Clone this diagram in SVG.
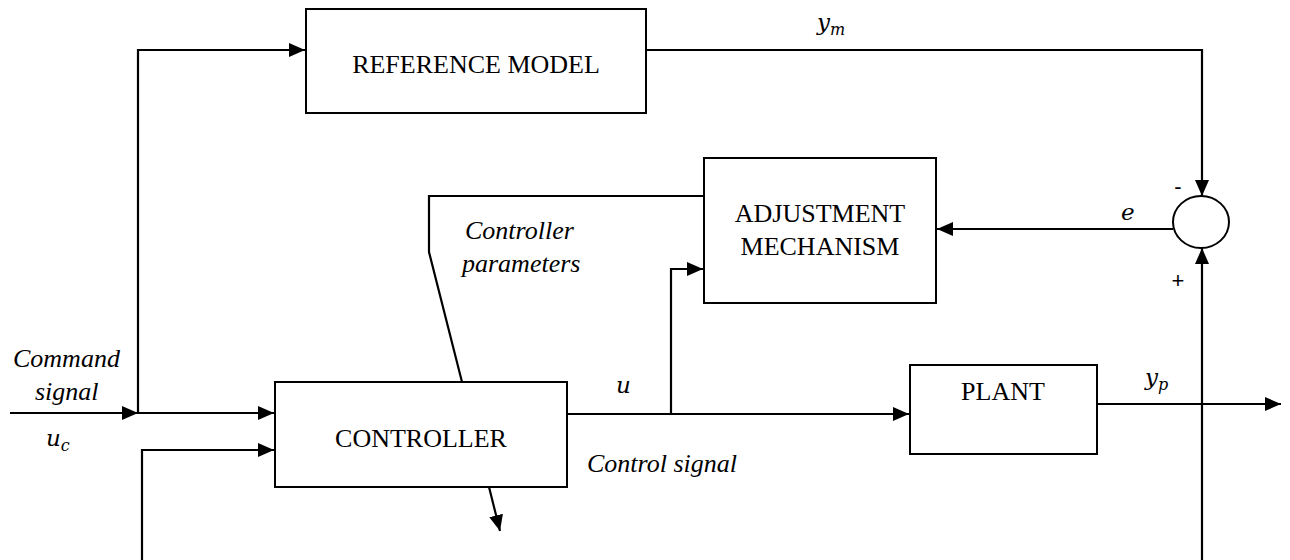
<svg xmlns="http://www.w3.org/2000/svg" width="1290" height="560" viewBox="0 0 1290 560">
<defs>
<marker id="ah" viewBox="0 0 16 14" refX="16" refY="7" markerWidth="16" markerHeight="14" markerUnits="userSpaceOnUse" orient="auto">
<path d="M0,0 L16,7 L0,14 Z" fill="#000"/>
</marker>
</defs>
<style>
.box{fill:#fff;stroke:#000;stroke-width:2}
.ln{fill:none;stroke:#000;stroke-width:2.2}
.ar{fill:none;stroke:#000;stroke-width:2.2;marker-end:url(#ah)}
.bt{font-family:"Liberation Serif",serif;font-size:26px;text-anchor:middle;fill:#000}
.it{font-family:"Liberation Serif",serif;font-size:26px;font-style:italic;fill:#000}
.mt{font-family:"DejaVu Serif","Liberation Serif",serif;font-size:23px;font-style:italic;fill:#000}
.sg{font-family:"Liberation Sans",sans-serif;font-size:22px;text-anchor:middle;fill:#000}
</style>
<rect width="1290" height="560" fill="#fff"/>
<g id="connectors">
<path class="ar" d="M138,413 V50 H305"/>
<path class="ar" d="M646,50 H1202 V196"/>
<path class="ar" d="M1173,229 H937"/>
<path class="ln" d="M704,196 H429 V252 L462,382"/>
<path class="ar" d="M671,414 V269 H703"/>
<path class="ar" d="M567,414 H909"/>
<path class="ar" d="M489,487 L500,531"/>
<path class="ar" d="M1097,404 H1281"/>
<path class="ar" d="M1202,560 V248"/>
<path class="ar" d="M10,413 H138"/>
<path class="ar" d="M138,413 H274"/>
<path class="ar" d="M142,560 V450 H274"/>
</g>
<g id="reference-model">
<rect class="box" x="306" y="9" width="340" height="104"/>
<text class="bt" x="476" y="73">REFERENCE MODEL</text>
</g>
<g id="adjustment-mechanism">
<rect class="box" x="704" y="158" width="232" height="145"/>
<text class="bt" x="820" y="222">ADJUSTMENT</text>
<text class="bt" x="820" y="255">MECHANISM</text>
</g>
<g id="controller">
<rect class="box" x="275" y="382" width="292" height="105"/>
<text class="bt" x="421" y="447">CONTROLLER</text>
</g>
<g id="plant">
<rect class="box" x="910" y="365" width="187" height="89"/>
<text class="bt" x="1003" y="400">PLANT</text>
</g>
<g id="sum">
<ellipse cx="1201" cy="222" rx="28" ry="26" fill="#fff" stroke="#000" stroke-width="2"/>
<text class="sg" x="1178" y="194">-</text>
<text class="sg" x="1178" y="288">+</text>
</g>
<g id="labels">
<text class="mt" x="817" y="30">y<tspan font-size="16" dy="5">m</tspan></text>
<text class="mt" x="1121" y="220">e</text>
<text class="mt" x="616" y="393">u</text>
<text class="mt" x="1145" y="385">y<tspan font-size="16" dy="5">p</tspan></text>
<text class="mt" x="46" y="446">u<tspan font-size="16" dy="5">c</tspan></text>
<text class="it" x="13" y="367">Command</text>
<text class="it" x="35" y="400">signal</text>
<text class="it" x="465" y="239">Controller</text>
<text class="it" x="462" y="272">parameters</text>
<text class="it" x="587" y="472">Control signal</text>
</g>
</svg>
